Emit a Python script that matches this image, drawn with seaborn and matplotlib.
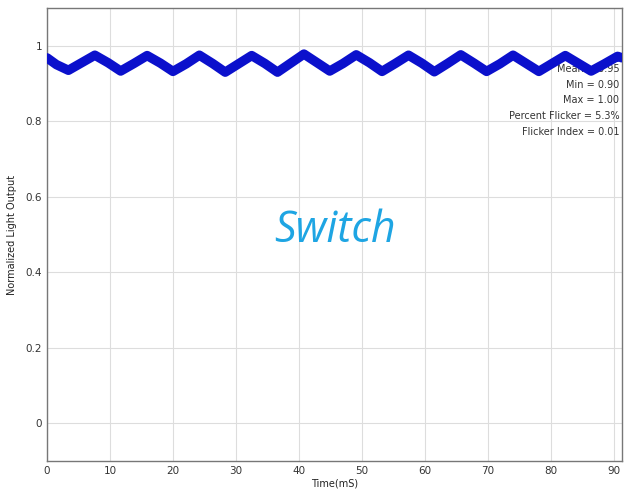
import matplotlib
matplotlib.use("Agg")
import matplotlib.pyplot as plt
import seaborn as sns
import pandas as pd

# samples (ms, normalized output)
time_ms = [0, 1.5, 3.4, 5.5, 7.6, 9.7, 11.7, 13.8, 15.9, 18.0, 20.0, 22.1,
           24.2, 26.3, 28.3, 30.4, 32.5, 34.6, 36.6, 38.7, 40.8, 42.9, 44.9,
           47.0, 49.1, 51.2, 53.2, 55.3, 57.4, 59.5, 61.5, 63.6, 65.7, 67.8,
           69.8, 71.9, 74.0, 76.1, 78.1, 80.2, 82.3, 84.4, 86.4, 88.5, 90.6, 91.3]
light_out = [0.968, 0.950, 0.935, 0.955, 0.975, 0.955, 0.933, 0.953, 0.974,
             0.954, 0.932, 0.952, 0.975, 0.953, 0.930, 0.952, 0.974, 0.953,
             0.930, 0.954, 0.978, 0.955, 0.933, 0.953, 0.976, 0.955, 0.932,
             0.953, 0.975, 0.954, 0.931, 0.953, 0.976, 0.954, 0.932, 0.952,
             0.975, 0.953, 0.932, 0.953, 0.974, 0.953, 0.933, 0.952, 0.972, 0.968]

stats_lines = ["Mean = 0.95", "Min = 0.90", "Max = 1.00",
               "Percent Flicker = 5.3%", "Flicker Index = 0.01"]
x_ticks = [0, 10, 20, 30, 40, 50, 60, 70, 80, 90]
y_ticks = [0, 0.2, 0.4, 0.6, 0.8, 1.0]
y_ticklabels = ["0", "0.2", "0.4", "0.6", "0.8", "1"]

df = pd.DataFrame({"t": time_ms, "y": light_out})

sns.set_style("whitegrid")
plt.rcParams["font.family"] = ["DejaVu Sans"]

fig = plt.figure(figsize=(6.24, 5.01), dpi=100)
ax = fig.add_axes([0.0753, 0.080, 0.9215, 0.904])

# stats text first so the trace sits on top of it
for i, line in enumerate(stats_lines):
    ax.text(0.995, 0.865 - i * 0.0345, line, transform=ax.transAxes,
            ha="right", va="center", fontsize=7, color="#333333", zorder=1)

sns.lineplot(data=df, x="t", y="y", color="#0b10cc", linewidth=6.8,
             ax=ax, zorder=3)

ax.text(45.7, 0.51, "Switch", fontsize=31, style="italic",
        color="#1ea5e3", ha="center", va="center",
        family=["Open Sans", "DejaVu Sans"])

ax.set_xlim(0, 91.3)
ax.set_ylim(-0.1, 1.1)
ax.set_xticks(x_ticks)
ax.set_yticks(y_ticks)
ax.set_yticklabels(y_ticklabels)
ax.tick_params(labelsize=7.5, colors="#333333", length=3, direction="in")
ax.set_xlabel("Time(mS)", fontsize=7, color="#222222", labelpad=2)
ax.set_ylabel("Normalized Light Output", fontsize=7, color="#222222", labelpad=6)
ax.grid(True, color="#dddddd", linewidth=0.8)
for sp in ax.spines.values():
    sp.set_color("#777777")
    sp.set_linewidth(1.0)

fig.savefig("out.png", dpi=100)
